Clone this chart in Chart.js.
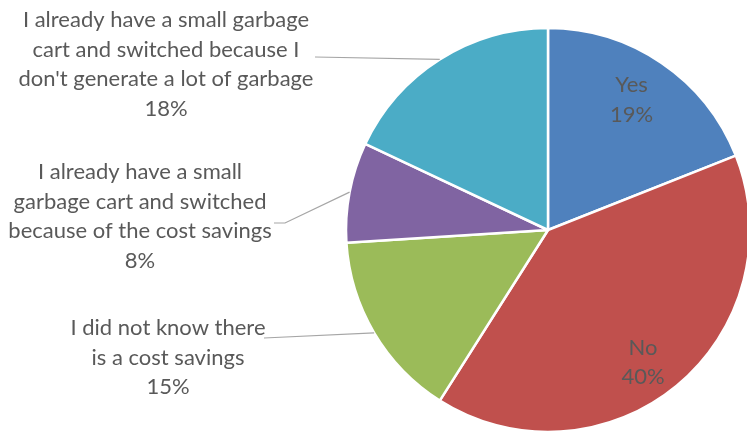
<!DOCTYPE html>
<html>
<head>
<meta charset="utf-8">
<script src="https://cdn.jsdelivr.net/npm/chart.js@4"></script>
<style>
  html, body { margin: 0; padding: 0; background: #fff; }
  #wrap { width: 747px; height: 431px; }
</style>
</head>
<body>
<div id="wrap"><canvas id="pie"></canvas></div>
<script>
// data
const categories = [
    'Yes',
    'No',
    'I did not know there is a cost savings',
    'I already have a small garbage cart and switched because of the cost savings',
    "I already have a small garbage cart and switched because I don't generate a lot of garbage"
];
const labelLines = [
    ['Yes'],
    ['No'],
    ['I did not know there', 'is a cost savings'],
    ['I already have a small', 'garbage cart and switched', 'because of the cost savings'],
    ['I already have a small garbage', 'cart and switched because I', "don't generate a lot of garbage"]
];
const values = [19, 40, 15, 8, 18];
const colors = ['#4F81BD', '#C0504D', '#9BBB59', '#8064A2', '#4BACC6'];

// where each label sits (inside = fraction of radius + nudge, else text block + leader start)
const labelLayout = [
    { inside: 0.78, dx: -5, dy: 0 },
    { inside: 0.80, dx: -8, dy: 8 },
    { x: 168, y: 328, from: [264, 338] },
    { x: 140, y: 172, from: [274, 223], elbow: [285, 223] },
    { x: 166, y: 20, from: [315, 57] }
];

const FONT = '22px Lato, "Noto Sans", sans-serif';
const LINE_H = 29.5;

const pieLabels = {
    id: 'pieLabels',
    afterDatasetsDraw(chart) {
        const ctx = chart.ctx;
        const arcs = chart.getDatasetMeta(0).data;
        ctx.save();
        ctx.font = FONT;
        ctx.fillStyle = '#595959';
        ctx.textAlign = 'center';
        ctx.textBaseline = 'middle';
        arcs.forEach((arc, i) => {
            const p = arc.getProps(['x', 'y', 'startAngle', 'endAngle', 'outerRadius']);
            const mid = (p.startAngle + p.endAngle) / 2;
            const lay = labelLayout[i];
            const lines = labelLines[i].concat([values[i] + '%']);
            if (lay.inside) {
                const r = p.outerRadius * lay.inside;
                const cx = p.x + Math.cos(mid) * r + lay.dx;
                const cy = p.y + Math.sin(mid) * r + lay.dy;
                const y0 = cy - (lines.length - 1) * LINE_H / 2;
                lines.forEach((t, k) => ctx.fillText(t, cx, y0 + k * LINE_H));
            } else {
                lines.forEach((t, k) => ctx.fillText(t, lay.x, lay.y + k * LINE_H));
                const ex = p.x + Math.cos(mid) * p.outerRadius;
                const ey = p.y + Math.sin(mid) * p.outerRadius;
                ctx.beginPath();
                ctx.strokeStyle = '#A6A6A6';
                ctx.lineWidth = 1.2;
                ctx.moveTo(lay.from[0], lay.from[1]);
                if (lay.elbow) ctx.lineTo(lay.elbow[0], lay.elbow[1]);
                ctx.lineTo(ex, ey);
                ctx.stroke();
            }
        });
        ctx.restore();
    }
};

new Chart(document.getElementById('pie'), {
    type: 'pie',
    data: {
        labels: categories,
        datasets: [{
            data: values,
            backgroundColor: colors,
            borderColor: '#ffffff',
            borderWidth: 2.5,
            radius: 202,
            clip: false
        }]
    },
    options: {
        responsive: true,
        maintainAspectRatio: false,
        animation: false,
        layout: { padding: { left: 349, right: 0, top: 29, bottom: 0 } },
        plugins: { legend: { display: false }, tooltip: { enabled: false } }
    },
    plugins: [pieLabels]
});
</script>
</body>
</html>
